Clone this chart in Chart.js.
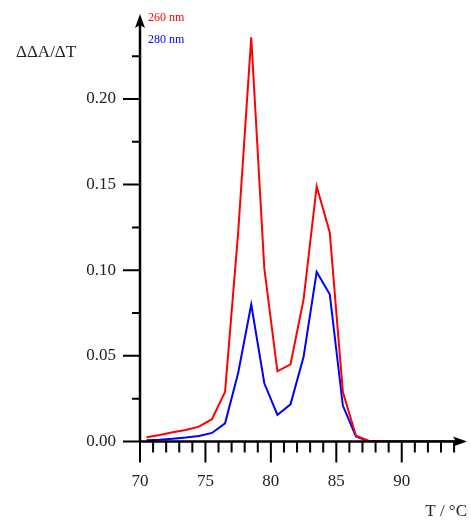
<!DOCTYPE html>
<html>
<head>
<meta charset="utf-8">
<script src="https://cdn.jsdelivr.net/npm/chart.js@4/dist/chart.umd.min.js"></script>
<style>
  html, body { margin: 0; padding: 0; background: #fff; }
  #wrap { width: 471px; height: 525px; position: relative; }
</style>
</head>
<body>
<div id="wrap"><canvas id="meltChart"></canvas></div>
<script>
// Temperatures (°C) of each measurement
const temps = [70.5, 71.5, 72.5, 73.5, 74.5, 75.5, 76.5, 77.5, 78.5, 79.5, 80.5, 81.5, 82.5,
               83.5, 84.5, 85.5, 86.5, 87.5, 88.5, 89.5, 90.5, 91.5, 92.5, 93.5, 94.5];
// dA/dT at 260 nm and 280 nm
const abs260 = [0.0025, 0.0038, 0.0054, 0.0067, 0.0087, 0.013, 0.029, 0.122, 0.236, 0.101, 0.041, 0.045, 0.083,
                0.149, 0.122, 0.029, 0.0034, 0.0003, 0, 0, 0, 0, 0, 0, 0];
const abs280 = [0.0007, 0.001, 0.0016, 0.0023, 0.0032, 0.005, 0.0106, 0.040, 0.080, 0.034, 0.0155, 0.0217, 0.0495,
                0.099, 0.086, 0.021, 0.003, 0, 0, 0, 0, 0, 0, 0, 0];
const seriesNames = ["260 nm", "280 nm"];
// tick values
const xMajor = [70, 75, 80, 85, 90];
const xMinor = [71, 72, 73, 74, 76, 77, 78, 79, 81, 82, 83, 84, 86, 87, 88, 89, 91, 92, 93, 94];
const yMajor = [0, 0.05, 0.10, 0.15, 0.20];
const yMinor = [0.025, 0.075, 0.125, 0.175, 0.225];

const serif = "'Liberation Serif', 'DejaVu Serif', serif";

// draws axes with arrows, tick marks, legend text and axis titles
const axesPlugin = {
    id: "axesPlugin",
    afterDraw(chart) {
        const ctx = chart.ctx;
        const xs = chart.scales.x;
        const ys = chart.scales.y;
        const x0 = xs.getPixelForValue(70);
        const y0 = ys.getPixelForValue(0);
        const top = chart.chartArea.top;
        const right = chart.chartArea.right;
        ctx.save();
        ctx.strokeStyle = "#000";
        ctx.fillStyle = "#000";

        // ticks
        ctx.lineWidth = 2;
        ctx.beginPath();
        xMajor.forEach(v => { const p = xs.getPixelForValue(v); ctx.moveTo(p, y0); ctx.lineTo(p, y0 + 21); });
        xMinor.forEach(v => { const p = xs.getPixelForValue(v); ctx.moveTo(p, y0); ctx.lineTo(p, y0 + 11); });
        yMajor.forEach(v => { const p = ys.getPixelForValue(v); ctx.moveTo(x0, p); ctx.lineTo(x0 - 17, p); });
        yMinor.forEach(v => { const p = ys.getPixelForValue(v); ctx.moveTo(x0, p); ctx.lineTo(x0 - 8, p); });
        ctx.stroke();

        // axis lines
        ctx.lineWidth = 2.5;
        ctx.beginPath();
        ctx.moveTo(x0, y0);
        ctx.lineTo(x0, top + 8);
        ctx.moveTo(x0, y0);
        ctx.lineTo(right - 8, y0);
        ctx.stroke();

        // arrowheads
        ctx.beginPath();
        ctx.moveTo(x0, top);
        ctx.lineTo(x0 - 5, top + 14);
        ctx.lineTo(x0, top + 11);
        ctx.lineTo(x0 + 5, top + 14);
        ctx.closePath();
        ctx.fill();
        ctx.beginPath();
        ctx.moveTo(right + 1, y0);
        ctx.lineTo(right - 13, y0 - 5);
        ctx.lineTo(right - 10, y0);
        ctx.lineTo(right - 13, y0 + 5);
        ctx.closePath();
        ctx.fill();

        // axis titles
        ctx.fillStyle = "#222";
        ctx.font = "17px " + serif;
        ctx.textBaseline = "middle";
        ctx.textAlign = "left";
        ctx.fillText("ΔΔA/ΔT", 16, 53);
        ctx.textAlign = "right";
        ctx.fillText("T / °C", 467, 512);

        // legend
        ctx.font = "12px " + serif;
        ctx.textAlign = "left";
        chart.data.datasets.forEach((ds, i) => {
            ctx.fillStyle = ds.borderColor;
            ctx.fillText(ds.label, 148, 18 + i * 22);
        });
        ctx.restore();
    }
};

const chart = new Chart(document.getElementById("meltChart").getContext("2d"), {
    type: "line",
    data: {
        labels: temps,
        datasets: [
            {
                label: seriesNames[0],
                data: temps.map((t, i) => ({ x: t, y: abs260[i] })),
                borderColor: "#ff0000",
                borderWidth: 2,
                pointRadius: 0,
                tension: 0
            },
            {
                label: seriesNames[1],
                data: temps.map((t, i) => ({ x: t, y: abs280[i] })),
                borderColor: "#0000ff",
                borderWidth: 2,
                pointRadius: 0,
                tension: 0
            }
        ]
    },
    options: {
        responsive: true,
        maintainAspectRatio: false,
        animation: false,
        layout: { padding: { top: 14, right: 5, left: 0, bottom: 0 } },
        plugins: {
            legend: { display: false },
            tooltip: { enabled: false }
        },
        scales: {
            x: {
                type: "linear",
                min: 70,
                max: 94.91,
                afterBuildTicks: scale => { scale.ticks = xMajor.map(v => ({ value: v })); },
                afterFit: scale => {
                    scale.height = 83.5;
                    scale.paddingLeft = 0;
                    scale.paddingRight = 0;
                },
                grid: { display: false, drawTicks: false },
                border: { display: false },
                ticks: {
                    autoSkip: false,
                    maxRotation: 0,
                    padding: 30,
                    color: "#222",
                    font: { family: serif, size: 17 },
                    callback: v => String(v)
                }
            },
            y: {
                type: "linear",
                min: 0,
                max: 0.2496,
                afterBuildTicks: scale => { scale.ticks = yMajor.map(v => ({ value: v })); },
                afterFit: scale => {
                    scale.width = 140;
                    scale.paddingTop = 0;
                    scale.paddingBottom = 0;
                },
                grid: { display: false, drawTicks: false },
                border: { display: false },
                ticks: {
                    autoSkip: false,
                    padding: 24,
                    color: "#222",
                    font: { family: serif, size: 17 },
                    callback: v => v.toFixed(2)
                }
            }
        }
    },
    plugins: [axesPlugin]
});
</script>
</body>
</html>
